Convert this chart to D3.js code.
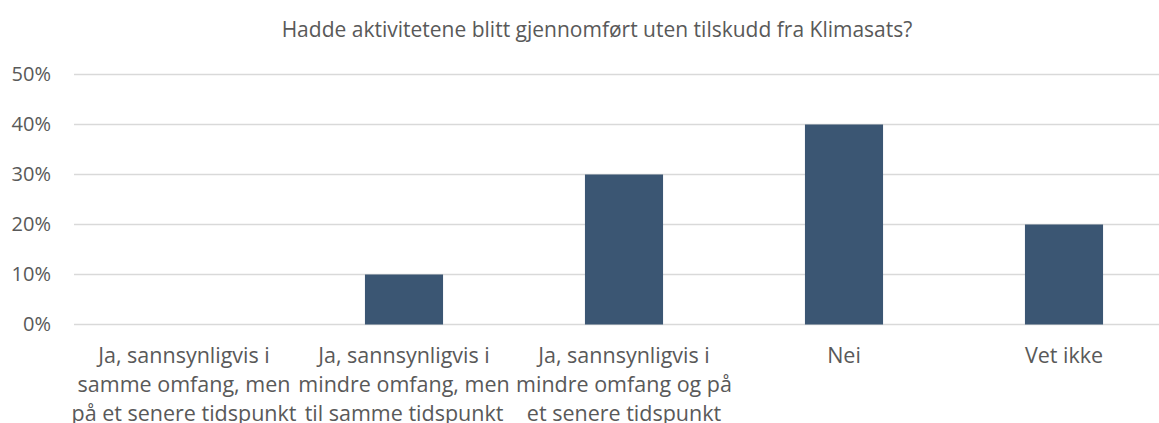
<!DOCTYPE html>
<html lang="no">
<head>
<meta charset="UTF-8">
<title>Klimasats</title>
<script src="https://cdn.jsdelivr.net/npm/d3@7"></script>
<style>
  body { margin: 0; background: #fff; }
  text { font-family: "Open Sans", sans-serif; fill: #595959; }
</style>
</head>
<body>
<script>
// data
const categories = [
  ['Ja, sannsynligvis i', 'samme omfang, men', 'på et senere tidspunkt'],
  ['Ja, sannsynligvis i', 'mindre omfang, men', 'til samme tidspunkt'],
  ['Ja, sannsynligvis i', 'mindre omfang og på', 'et senere tidspunkt'],
  ['Nei'],
  ['Vet ikke']
]
const values = [0, 0.10, 0.30, 0.40, 0.20]
const yTicks = [0, 0.1, 0.2, 0.3, 0.4, 0.5]
const title = 'Hadde aktivitetene blitt gjennomført uten tilskudd fra Klimasats?'

const width = 1159
const height = 423

const svg = d3.select('body').append('svg')
  .attr('width', width)
  .attr('height', height)

const x = d3.scaleBand()
  .domain(d3.range(categories.length))
  .range([74, 1174])
  .paddingInner(0.645)
  .paddingOuter(0.3225)

const y = d3.scaleLinear()
  .domain([0, 0.5])
  .range([324.5, 74.5])

svg.append('text')
  .attr('x', 597)
  .attr('y', 37)
  .attr('text-anchor', 'middle')
  .attr('font-size', 21)
  .text(title)

// gridlines
svg.append('g')
  .selectAll('line')
  .data(yTicks)
  .enter()
  .append('line')
  .attr('x1', 74)
  .attr('x2', width)
  .attr('y1', d => y(d))
  .attr('y2', d => y(d))
  .attr('stroke', '#d9d9d9')
  .attr('stroke-width', 1.3)

const yAxis = svg.append('g')
  .attr('transform', 'translate(51,0)')
  .call(d3.axisLeft(y).tickValues(yTicks).tickFormat(d3.format('.0%')).tickSize(0).tickPadding(0))
yAxis.select('.domain').remove()
yAxis.selectAll('text')
  .attr('font-size', 20)
  .attr('font-family', '"Open Sans", sans-serif')
  .attr('fill', '#595959')

svg.append('g')
  .selectAll('rect')
  .data(values)
  .enter()
  .append('rect')
  .attr('x', (d, i) => x(i))
  .attr('y', d => y(d))
  .attr('width', x.bandwidth())
  .attr('height', d => y(0) - y(d))
  .attr('fill', '#3b5673')

// category labels, last line runs off the bottom like in the original
const labels = svg.append('g')
  .selectAll('text')
  .data(categories)
  .enter()
  .append('text')
  .attr('text-anchor', 'middle')
  .attr('font-size', 21.5)
  .attr('transform', (d, i) => `translate(${x(i) + x.bandwidth() / 2},363)`)

labels.selectAll('tspan')
  .data(d => d)
  .enter()
  .append('tspan')
  .attr('x', 0)
  .attr('y', (d, i) => i * 29)
  .text(d => d)
</script>
</body>
</html>
